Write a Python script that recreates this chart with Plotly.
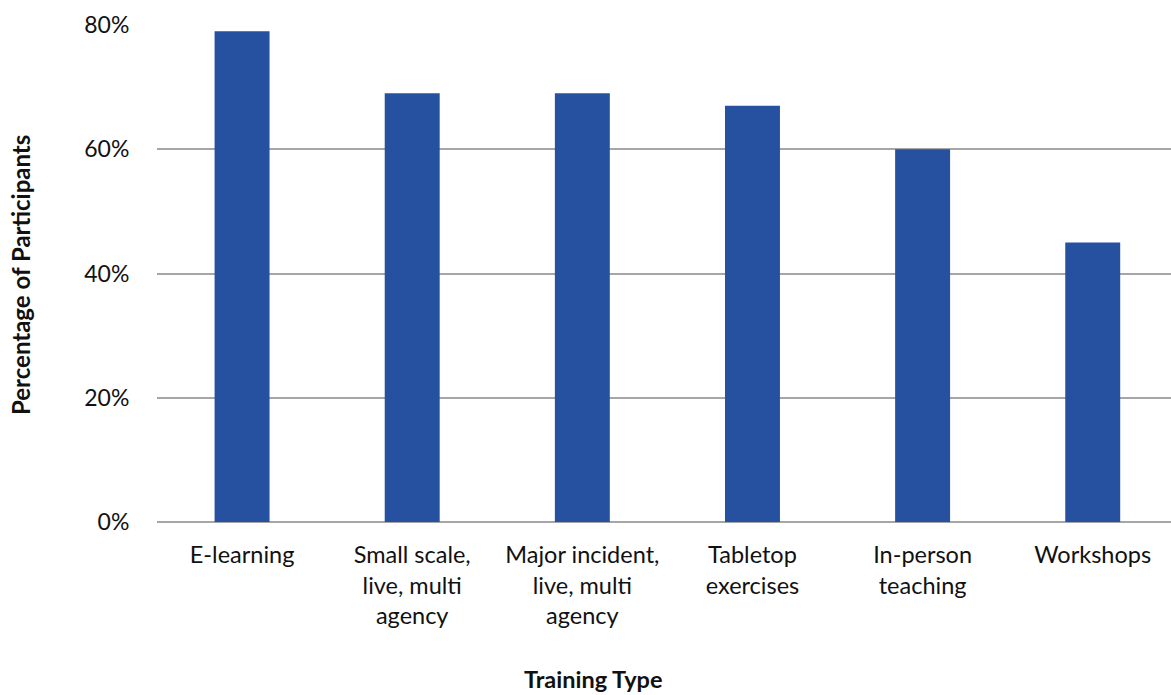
import plotly.graph_objects as go

categories = ["E-learning", "Small scale,<br>live, multi<br>agency", "Major incident,<br>live, multi<br>agency",
              "Tabletop<br>exercises", "In-person<br>teaching", "Workshops"]
values = [79, 69, 69, 67, 60, 45]
y_ticks = [0, 20, 40, 60, 80]
y_tick_labels = ["0%", "20%", "40%", "60%", "80%"]

fig = go.Figure(go.Bar(x=categories, y=values, marker=dict(color="#2650A0", line=dict(width=0))))

L, T, B = 157, 25, 173
W, H = 1171, 695
plot_w = W - L
plot_h = H - T - B

fig.update_layout(
    width=W, height=H,
    margin=dict(l=L, r=0, t=T, b=B),
    paper_bgcolor="white", plot_bgcolor="white",
    font=dict(family="Lato", size=23, color="#111111"),
    bargap=0.677,
    showlegend=False,
    annotations=[
        dict(text="<b>Training Type</b>", xref="paper", yref="paper",
             x=(593 - L) / plot_w, y=(T + plot_h - 679) / plot_h,
             xanchor="center", yanchor="middle", showarrow=False,
             font=dict(family="Lato", size=23.5, color="#111111")),
        dict(text="<b>Percentage of Participants</b>", xref="paper", yref="paper",
             x=(20 - L) / plot_w, y=(T + plot_h - 275) / plot_h, textangle=-90,
             xanchor="center", yanchor="middle", showarrow=False,
             font=dict(family="Lato", size=24, color="#111111")),
    ],
)
fig.update_xaxes(
    range=[-0.5, 5.46], showgrid=False, showline=False, zeroline=False,
    ticks="outside", ticklen=12, tickcolor="rgba(0,0,0,0)",
    tickfont=dict(size=23.5),
    automargin=False,
)
fig.update_yaxes(
    range=[0, 80], tickvals=y_ticks, ticktext=y_tick_labels,
    showgrid=True, gridcolor="#a6a6a6", gridwidth=2,
    zeroline=True, zerolinecolor="#a6a6a6", zerolinewidth=2,
    showline=False, ticks="outside", ticklen=22, tickcolor="rgba(0,0,0,0)",
    automargin=False,
)

fig.write_html("out.html")
